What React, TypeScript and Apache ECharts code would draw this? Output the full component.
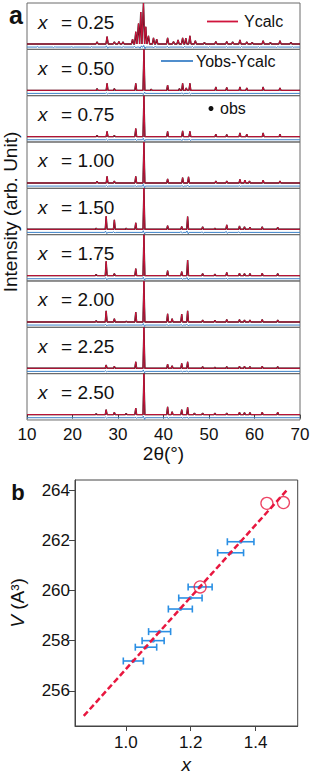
import React, { useEffect, useRef } from "react";
import * as echarts from "echarts";

// ---------- Panel (a): XRD refinements ----------
const compositions = ["0.25", "0.50", "0.75", "1.00", "1.50", "1.75", "2.00", "2.25", "2.50"];

// [2θ, relative intensity]
const peaks025 = [[25.4, 0.05], [27.6, 0.18], [29.2, 0.05], [30.2, 0.06], [31.1, 0.05], [33.2, 0.12], [33.9, 0.3], [34.5, 0.5], [35.0, 0.78], [35.6, 1.0], [36.1, 0.42], [36.7, 0.2], [37.8, 0.15], [38.5, 0.12], [40.9, 0.15], [42.2, 0.06], [43.2, 0.1], [44.2, 0.15], [44.9, 0.14], [45.8, 0.2], [47.0, 0.08], [49.0, 0.04], [51.5, 0.06], [53.9, 0.06], [55.2, 0.05], [56.8, 0.1], [58.3, 0.05], [59.5, 0.04], [61.9, 0.08], [63.5, 0.04], [65.6, 0.08], [68.0, 0.04]];
const peaks050 = [[25.4, 0.04], [27.6, 0.17], [29.2, 0.04], [33.9, 0.17], [35.7, 1.0], [37.3, 0.03], [40.9, 0.13], [43.5, 0.04], [44.2, 0.17], [45.0, 0.06], [45.8, 0.17], [51.5, 0.08], [53.9, 0.07], [56.8, 0.08], [58.3, 0.06], [61.9, 0.08], [65.6, 0.06]];
const peaks075 = [[25.4, 0.03], [27.6, 0.13], [29.2, 0.03], [33.9, 0.2], [35.7, 1.0], [40.9, 0.13], [44.2, 0.14], [45.8, 0.13], [51.5, 0.06], [53.9, 0.05], [56.8, 0.09], [58.3, 0.06], [61.9, 0.09], [65.6, 0.06]];
const peaks100 = [[25.4, 0.04], [27.6, 0.16], [29.2, 0.05], [33.9, 0.16], [35.7, 1.0], [40.9, 0.1], [44.2, 0.13], [45.5, 0.15], [51.5, 0.05], [53.9, 0.05], [56.8, 0.09], [57.9, 0.07], [58.9, 0.05], [61.9, 0.07], [65.6, 0.05]];
const peaks150 = [[25.2, 0.03], [27.4, 0.32], [29.2, 0.23], [31.8, 0.03], [33.9, 0.16], [35.7, 1.0], [40.9, 0.09], [44.0, 0.07], [45.3, 0.31], [48.6, 0.06], [51.3, 0.03], [53.9, 0.11], [56.7, 0.08], [57.8, 0.06], [59.0, 0.05], [61.7, 0.06], [65.1, 0.05]];
const peaks175 = [[25.2, 0.03], [27.4, 0.35], [29.2, 0.05], [33.9, 0.17], [35.7, 1.0], [40.9, 0.12], [44.0, 0.1], [45.3, 0.38], [48.6, 0.05], [51.3, 0.04], [53.9, 0.08], [56.7, 0.06], [57.8, 0.05], [59.0, 0.05], [61.7, 0.06], [65.1, 0.05]];
const peaks200 = [[25.2, 0.03], [27.4, 0.27], [29.2, 0.08], [31.8, 0.02], [33.9, 0.24], [35.7, 1.0], [40.9, 0.2], [41.9, 0.08], [44.0, 0.19], [45.3, 0.27], [48.6, 0.05], [51.3, 0.04], [53.9, 0.06], [56.7, 0.06], [57.8, 0.05], [59.0, 0.05], [61.7, 0.06], [65.1, 0.05]];
const peaks225 = [[27.4, 0.08], [29.2, 0.05], [33.9, 0.16], [35.7, 1.0], [40.9, 0.1], [41.9, 0.06], [44.0, 0.12], [45.3, 0.16], [48.6, 0.04], [51.3, 0.03], [53.9, 0.04], [56.7, 0.05], [57.8, 0.05], [59.0, 0.04], [61.7, 0.05], [65.1, 0.04]];
const peaks250 = [[25.2, 0.02], [27.4, 0.12], [29.2, 0.06], [31.8, 0.03], [33.9, 0.16], [35.7, 1.0], [40.9, 0.19], [41.9, 0.07], [44.0, 0.12], [45.3, 0.18], [46.8, 0.04], [48.6, 0.04], [51.3, 0.04], [53.9, 0.04], [56.7, 0.06], [57.8, 0.05], [59.0, 0.05], [61.7, 0.06], [65.1, 0.06]];
const panelPeaks = [peaks025, peaks050, peaks075, peaks100, peaks150, peaks175, peaks200, peaks225, peaks250];

// difference-curve wiggles [2θ, amplitude]
const diff025 = [[12.5, 0.015], [16.0, -0.012], [20.0, 0.012], [24.0, -0.012], [27.6, 0.03], [31.0, -0.015], [33.8, 0.02], [35.0, -0.03], [35.8, 0.04], [38.0, -0.02], [41.0, 0.02], [44.5, -0.02], [46.5, 0.015], [50.0, -0.012], [54.0, 0.012], [57.0, -0.015], [61.0, 0.012], [65.0, -0.012], [68.5, 0.01]];
const diff050 = [[27.6, 0.015], [35.7, -0.03], [44.2, 0.015], [45.8, 0.015]];
const diff075 = [[27.6, 0.015], [33.9, 0.015], [35.7, 0.035], [44.2, -0.02], [45.8, 0.02]];
const diff100 = [[27.6, 0.015], [33.9, 0.012], [35.7, 0.04], [44.2, 0.015], [45.5, 0.02], [56.8, 0.01]];
const diff150 = [[27.4, 0.03], [29.2, 0.015], [35.7, 0.04], [44.0, 0.02], [45.3, 0.035], [48.6, 0.015], [53.9, 0.025], [56.7, 0.015]];
const diff175 = [[27.4, 0.025], [35.7, 0.035], [44.0, 0.015], [45.3, 0.03], [53.9, 0.015]];
const diff200 = [[27.4, 0.02], [35.7, 0.035], [40.9, 0.015], [44.0, 0.015], [45.3, 0.02]];
const diff225 = [[27.4, 0.015], [35.7, 0.035], [44.0, 0.012], [45.3, 0.015]];
const diff250 = [[27.4, 0.015], [33.9, 0.012], [35.7, 0.04], [40.9, 0.02], [44.0, 0.012], [45.3, 0.015]];
const panelDiffs = [diff025, diff050, diff075, diff100, diff150, diff175, diff200, diff225, diff250];

// ---------- Panel (b): cell volume vs x ----------
const errX = [1.023, 1.062, 1.084, 1.104, 1.168, 1.199, 1.229, 1.323, 1.354];
const errV = [257.19, 257.74, 258.0, 258.36, 259.26, 259.7, 260.14, 261.5, 261.94];
const errDx = [0.031, 0.033, 0.034, 0.034, 0.037, 0.036, 0.037, 0.04, 0.041];
const circX = [1.229, 1.435, 1.486];
const circV = [260.14, 263.47, 263.5];
const fitX = [0.87, 1.497];
const fitV = [255.0, 264.0];
const vTicks = [256, 258, 260, 262, 264];
const xTicks = [1.0, 1.2, 1.4];

const FONT = "Liberation Sans, Arial, Helvetica, sans-serif";
const RED = "#d0143c";
const BLUE_DIFF = "#3d82c8";
const BLUE_ERR = "#2a8fe4";
const RED_B = "#e8173f";

function buildProfile(peaks: number[][], w: number): number[][] {
  const xs: number[] = [10, 70];
  peaks.forEach(([p]) => xs.push(p - w, p, p + w));
  xs.sort((a, b) => a - b);
  return xs.map((x) => {
    let y = 0;
    peaks.forEach(([p, h]) => {
      const d = Math.abs(x - p);
      if (d < w) y += h * (1 - d / w);
    });
    return [x, y];
  });
}

function buildDiff(blips: number[][], w: number, base: number): number[][] {
  const pts: number[][] = [[10, base]];
  blips.forEach(([p, a]) => {
    pts.push([p - w, base], [p - w / 2, base + a], [p + w / 2, base - a], [p + w, base]);
  });
  pts.push([70, base]);
  pts.sort((a, b) => a[0] - b[0]);
  return pts;
}

export default function App() {
  const ref = useRef<HTMLDivElement>(null);
  useEffect(() => {
    if (!ref.current) return;
    const chart = echarts.init(ref.current, undefined, { renderer: "svg" });

    const panelTop = 3;
    const panelH = 46.33;
    const gLeft = 27;
    const gWidth = 273;

    const grids: any[] = [];
    const xAxes: any[] = [];
    const yAxes: any[] = [];
    const series: any[] = [];
    const graphics: any[] = [];

    compositions.forEach((c, i) => {
      const top = panelTop + i * panelH;
      const last = i === compositions.length - 1;
      grids.push({ left: gLeft, top, width: gWidth, height: panelH, show: true, borderColor: "#6a6a6a", borderWidth: 1, backgroundColor: "transparent" });
      xAxes.push({
        type: "value", gridIndex: i, min: 10, max: 70, interval: 10,
        axisLine: { show: false },
        axisTick: { show: last, length: 4, lineStyle: { color: "#444" } },
        axisLabel: { show: last, fontSize: 17, color: "#111", fontFamily: FONT, margin: 6 },
        splitLine: { show: false },
        name: last ? "2θ(°)" : "", nameLocation: "middle", nameGap: 19,
        nameTextStyle: { fontSize: 19, color: "#111", fontFamily: FONT },
      });
      yAxes.push({
        type: "value", gridIndex: i, min: -0.13, max: 1.0,
        axisLine: { show: false }, axisTick: { show: false }, axisLabel: { show: false }, splitLine: { show: false },
      });
      const w = i === 0 ? 0.25 : 0.2;
      const prof = buildProfile(panelPeaks[i], w);
      series.push({ type: "line", xAxisIndex: i, yAxisIndex: i, data: prof, showSymbol: false, lineStyle: { color: "#151515", width: 1.4 }, silent: true });
      series.push({ type: "line", xAxisIndex: i, yAxisIndex: i, data: prof, showSymbol: false, lineStyle: { color: RED, width: 1 }, silent: true });
      series.push({ type: "line", xAxisIndex: i, yAxisIndex: i, data: buildDiff(panelDiffs[i], 0.3, -0.075), showSymbol: false, lineStyle: { color: BLUE_DIFF, width: 1 }, silent: true });

      graphics.push({
        type: "text", x: 38, y: top + 19, style: {
          text: "{i|x}  = " + c, fontSize: 19, fontFamily: FONT, fill: "#111", verticalAlign: "middle",
          rich: { i: { fontStyle: "italic", fontSize: 19, fontFamily: FONT, fill: "#111", padding: [0, 3, 0, 0] } },
        },
      });
    });

    // Panel b grid
    const bi = compositions.length;
    grids.push({ left: 72.7, top: 480, width: 225, height: 248, show: true, borderColor: "#444", borderWidth: 1, backgroundColor: "transparent" });
    xAxes.push({
      type: "value", gridIndex: bi, min: 0.843, max: 1.53,
      axisLine: { show: true, lineStyle: { color: "#444" } },
      axisTick: { show: true, length: 5, lineStyle: { color: "#444" }, customValues: xTicks },
      axisLabel: { fontSize: 17, color: "#111", fontFamily: FONT, margin: 8, customValues: xTicks, formatter: (v: number) => v.toFixed(1) },
      splitLine: { show: false },
      name: "x", nameLocation: "middle", nameGap: 29,
      nameTextStyle: { fontSize: 19, color: "#111", fontFamily: FONT, fontStyle: "italic" },
    });
    yAxes.push({
      type: "value", gridIndex: bi, min: 254.6, max: 264.4,
      axisLine: { show: true, lineStyle: { color: "#444" } },
      axisTick: { show: true, length: 6, lineStyle: { color: "#444" }, customValues: vTicks },
      axisLabel: { fontSize: 17, color: "#111", fontFamily: FONT, margin: 5, customValues: vTicks },
      splitLine: { show: false },
      name: "{i|V} (A³)", nameLocation: "middle", nameGap: 48, nameRotate: 90,
      nameTextStyle: { fontSize: 19, color: "#111", fontFamily: FONT, rich: { i: { fontStyle: "italic", fontSize: 19, fontFamily: FONT, color: "#111" } } },
    });

    series.push({
      type: "line", xAxisIndex: bi, yAxisIndex: bi, data: fitX.map((x, k) => [x, fitV[k]]), showSymbol: false,
      lineStyle: { color: RED_B, width: 2.5, type: [6, 3] }, silent: true,
    });
    series.push({
      type: "custom", xAxisIndex: bi, yAxisIndex: bi,
      data: errX.map((x, k) => [x, errV[k], errDx[k]]),
      encode: { x: 0, y: 1 },
      renderItem: (_p: any, api: any) => {
        const x = api.value(0), y = api.value(1), dx = api.value(2);
        const l = api.coord([x - dx, y]);
        const r = api.coord([x + dx, y]);
        const cap = 3.5;
        const st = { stroke: BLUE_ERR, lineWidth: 1.6 };
        return {
          type: "group", children: [
            { type: "line", shape: { x1: l[0], y1: l[1], x2: r[0], y2: r[1] }, style: st },
            { type: "line", shape: { x1: l[0], y1: l[1] - cap, x2: l[0], y2: l[1] + cap }, style: st },
            { type: "line", shape: { x1: r[0], y1: r[1] - cap, x2: r[0], y2: r[1] + cap }, style: st },
          ],
        };
      },
      silent: true,
    });
    series.push({
      type: "scatter", xAxisIndex: bi, yAxisIndex: bi, data: errX.map((x, k) => [x, errV[k]]),
      symbol: "circle", symbolSize: 4, itemStyle: { color: BLUE_ERR }, silent: true,
    });
    series.push({
      type: "scatter", xAxisIndex: bi, yAxisIndex: bi, data: circX.map((x, k) => [x, circV[k]]),
      symbol: "circle", symbolSize: 12, itemStyle: { color: "rgba(0,0,0,0)", borderColor: RED_B, borderWidth: 1.3 }, silent: true,
    });

    // legend-like annotations and labels
    graphics.push(
      { type: "line", shape: { x1: 207, y1: 21.5, x2: 238, y2: 21.5 }, style: { stroke: RED, lineWidth: 1.8 } },
      { type: "text", x: 244, y: 21.5, style: { text: "Ycalc", fontSize: 16, fontFamily: FONT, fill: "#111", verticalAlign: "middle" } },
      { type: "line", shape: { x1: 161, y1: 61, x2: 193, y2: 61 }, style: { stroke: BLUE_DIFF, lineWidth: 1.8 } },
      { type: "text", x: 196, y: 61, style: { text: "Yobs-Ycalc", fontSize: 16, fontFamily: FONT, fill: "#111", verticalAlign: "middle" } },
      { type: "circle", shape: { cx: 211, cy: 108.5, r: 2.5 }, style: { fill: "#111" } },
      { type: "text", x: 220, y: 108.5, style: { text: "obs", fontSize: 16, fontFamily: FONT, fill: "#111", verticalAlign: "middle" } },
      { type: "text", x: 10, y: 212, rotation: Math.PI / 2, style: { text: "Intensity (arb. Unit)", fontSize: 19, fontFamily: FONT, fill: "#111", align: "center", verticalAlign: "middle" } },
      { type: "text", x: 16, y: 15, style: { text: "a", fontSize: 25, fontWeight: "bold", fontFamily: FONT, fill: "#111", align: "center", verticalAlign: "middle" } },
      { type: "text", x: 18, y: 492, style: { text: "b", fontSize: 22, fontWeight: "bold", fontFamily: FONT, fill: "#111", align: "center", verticalAlign: "middle" } },
    );

    chart.setOption({
      animation: false,
      backgroundColor: "#fff",
      grid: grids,
      xAxis: xAxes,
      yAxis: yAxes,
      series,
      graphic: graphics,
    });
    return () => chart.dispose();
  }, []);

  return <div ref={ref} style={{ position: "absolute", left: 0, top: 0, width: 313, height: 775 }} />;
}
